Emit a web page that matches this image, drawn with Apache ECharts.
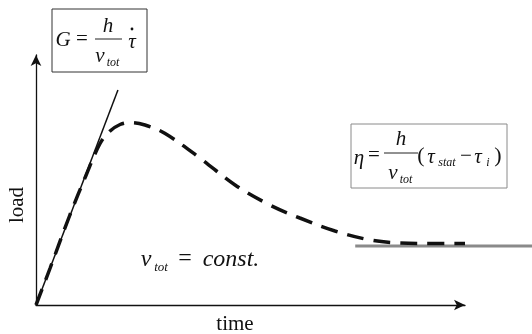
<!DOCTYPE html>
<html>
<head>
<meta charset="utf-8">
<script src="https://cdn.jsdelivr.net/npm/echarts@6/dist/echarts.min.js"></script>
<style>
  html, body { margin: 0; padding: 0; background: #fff; }
  #main { width: 532px; height: 334px; }
</style>
</head>
<body>
<div id="main"></div>
<script>
// measured load curve (dashed), time / load in arbitrary units
var curveTime = [0, 3.3, 7.9, 11.7, 14.9, 17.2, 19.6, 21.9, 25.4, 30.1, 38.2, 46.4, 54.5, 61.5, 69.7, 77.9, 84.8, 91.8, 100];
var curveLoad = [0, 14.8, 36, 52, 64.5, 69.5, 72.2, 73, 72, 68.6, 58.8, 48, 40, 34.8, 29.6, 26, 24.8, 24.6, 24.6];
// initial slope (tangent)
var tangentTime = [0, 19.1];
var tangentLoad = [0, 86];
// steady-state level (runs past the axis end)
var steadyTime = [74.4, 115.6];
var steadyLoad = [23.6, 23.6];

function pairs(xs, ys) {
    return xs.map(function (x, i) { return [x, ys[i]]; });
}

var serif = '"Liberation Serif", "DejaVu Serif", serif';

// small helper for formula pieces and labels
function t(text, x, y, size, italic, rot) {
    return {
        type: 'text',
        z: 10,
        x: x,
        y: y,
        rotation: rot || 0,
        style: {
            text: text,
            fontSize: size,
            fontFamily: serif,
            fontStyle: italic ? 'italic' : 'normal',
            fill: '#111',
            align: 'center',
            verticalAlign: 'middle'
        }
    };
}
function bar(x1, x2, y) {
    return {
        type: 'line', z: 10,
        shape: {x1: x1, y1: y, x2: x2, y2: y},
        style: {stroke: '#222', lineWidth: 1}
    };
}

var hiddenAxis = {
    show: false,
    type: 'value',
    min: 0,
    max: 100
};

var chart = echarts.init(document.getElementById('main'));
var option = {
    animation: false,
    backgroundColor: '#fff',
    grid: [
        {left: 36, right: 67, top: 55, bottom: 29, outerBoundsMode: 'none'},
        // same scale, stretched to the right edge for the steady line
        {left: 36, right: 0, top: 55, bottom: 29, outerBoundsMode: 'none'}
    ],
    xAxis: [
        {
            type: 'value',
            gridIndex: 0,
            min: 0,
            max: 100,
            axisLine: {
                show: true,
                symbol: ['none', 'arrow'],
                symbolSize: [8, 11],
                lineStyle: {color: '#111', width: 1.3}
            },
            axisTick: {show: false},
            axisLabel: {show: false},
            splitLine: {show: false}
        },
        Object.assign({}, hiddenAxis, {gridIndex: 1, max: 115.6})
    ],
    yAxis: [
        {
            type: 'value',
            gridIndex: 0,
            min: 0,
            max: 100,
            axisLine: {
                show: true,
                symbol: ['none', 'arrow'],
                symbolSize: [8, 11],
                lineStyle: {color: '#111', width: 1.3}
            },
            axisTick: {show: false},
            axisLabel: {show: false},
            splitLine: {show: false}
        },
        Object.assign({}, hiddenAxis, {gridIndex: 1})
    ],
    series: [
        {
            type: 'line',
            xAxisIndex: 1,
            yAxisIndex: 1,
            data: pairs(steadyTime, steadyLoad),
            showSymbol: false,
            lineStyle: {color: '#8a8a8a', width: 3}
        },
        {
            type: 'line',
            data: pairs(tangentTime, tangentLoad),
            showSymbol: false,
            lineStyle: {color: '#111', width: 1.5}
        },
        {
            type: 'line',
            data: pairs(curveTime, curveLoad),
            showSymbol: false,
            smooth: 0.35,
            lineStyle: {color: '#111', width: 3.5, type: [17, 10]}
        }
    ],
    graphic: [
        // axis titles
        t('time', 235, 324, 21, false),
        t('load', 17, 205, 21, false, Math.PI / 2),

        // G = h / v_tot * tau-dot
        {
            type: 'rect', z: 9,
            shape: {x: 52, y: 9, width: 95, height: 63},
            style: {fill: '#fff', stroke: '#333', lineWidth: 1}
        },
        t('G', 63, 40, 21, true),
        t('=', 82, 39, 21, false),
        t('h', 108, 26, 21, true),
        bar(95, 122, 39),
        t('v', 100, 56, 21, true),
        t('tot', 113, 63, 12, true),
        t('τ', 132, 42, 21, true),
        {type: 'circle', z: 10, shape: {cx: 132, cy: 29, r: 1.4}, style: {fill: '#111'}},

        // eta = h / v_tot (tau_stat - tau_i)
        {
            type: 'rect', z: 9,
            shape: {x: 351, y: 124, width: 156, height: 64},
            style: {fill: '#fff', stroke: '#8a8a8a', lineWidth: 1}
        },
        t('η', 359, 158, 21, true),
        t('=', 374, 155, 21, false),
        t('h', 401, 139, 21, true),
        bar(384, 418, 153),
        t('v', 393, 173, 21, true),
        t('tot', 406, 180, 12, true),
        t('(', 421, 156, 22, false),
        t('τ', 431, 157, 21, true),
        t('stat', 447, 163, 12, true),
        t('−', 466, 156, 21, false),
        t('τ', 478, 157, 21, true),
        t('i', 488, 163, 12, true),
        t(')', 498, 156, 22, false),

        // v_tot = const.
        t('v', 146, 260, 24, true),
        t('tot', 161, 268, 13, true),
        t('=', 185, 259, 24, false),
        t('const.', 231, 260, 24, true)
    ]
};
chart.setOption(option);
</script>
</body>
</html>
